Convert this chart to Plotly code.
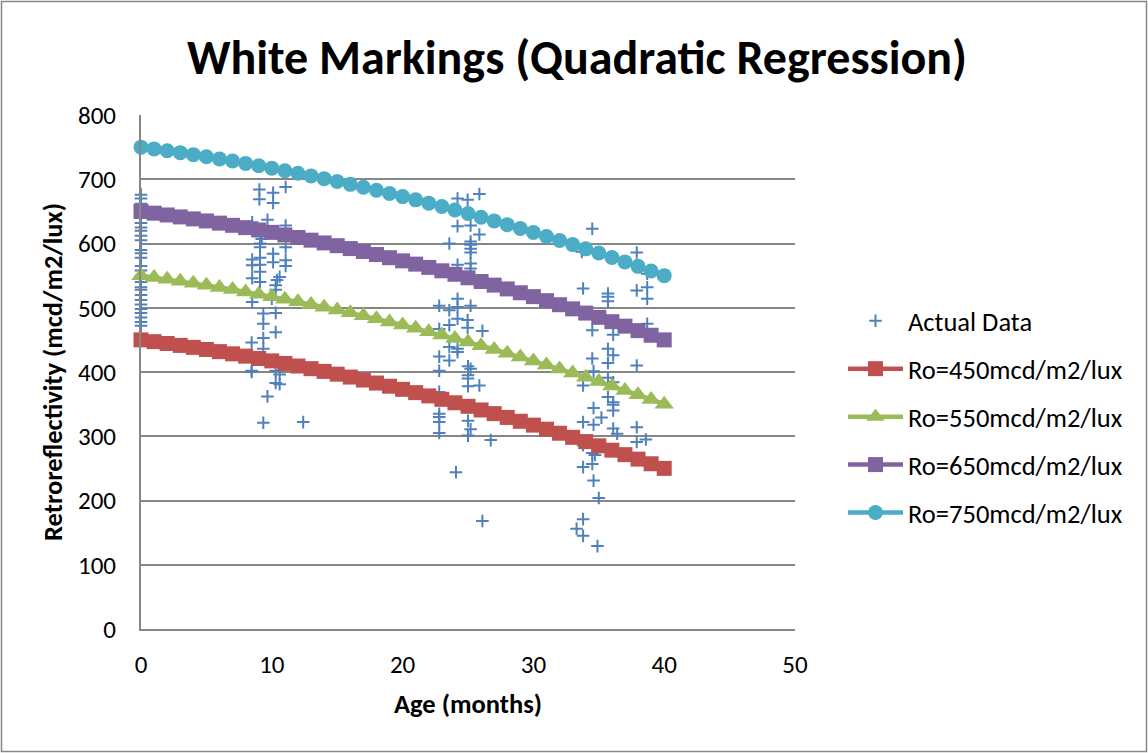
import plotly.graph_objects as go

# Measured retroreflectivity (age in months, mcd/m2/lux)
actual_age = [
    0, 0, 0, 0, 0, 0, 0, 0, 0, 0, 0, 0, 0, 0, 0, 0, 0, 0, 0, 0, 0, 0, 0, 0, 0, 0, 0, 0,
    9.05, 10.1, 11.06, 9.05, 10.1, 9.67, 8.5, 11.06, 9.23, 9.1, 9.1, 11.06, 10.1, 8.5, 9.1,
    8.5, 9.1, 10.1, 11.06, 11.06, 9.1, 8.5, 10.6, 10.4, 9.1, 10.3, 10.3, 8.5, 10.0, 9.35,
    10.3, 9.35, 10.3, 9.35, 8.46, 9.35, 8.46, 8.46, 10.3, 10.6, 10.3, 10.6, 9.67, 9.35, 12.4,
    25.87, 24.2, 24.97, 24.2, 25.2, 25.87, 23.57, 25.2, 25.2, 25.2, 25.2, 24.2, 25.2, 25.2,
    24.2, 22.8, 23.57, 24.2, 25.2, 24.2, 24.97, 23.57, 24.97, 22.8, 26.1, 23.57, 24.2, 24.2,
    22.8, 23.57, 22.8, 25.0, 25.2, 25.0, 25.0, 25.0, 25.87, 22.8, 22.8, 22.8, 22.8, 25.0,
    25.2, 25.0, 22.8, 26.74, 24.08, 26.1,
    34.5, 33.7, 37.9, 33.8, 35.7, 35.7, 35.7, 37.9, 38.7, 38.7, 38.7, 38.7, 34.5, 36.1, 35.7,
    36.1, 34.5, 35.7, 37.9, 34.6, 35.7, 33.8, 36.1, 35.7, 36.1, 36.1, 36.1, 34.6, 35.2, 33.8,
    34.6, 36.1, 36.4, 37.9, 33.8, 33.8, 37.9, 38.6, 34.5, 34.7, 34.5, 33.8, 34.6, 35.0, 33.8,
    33.3, 33.8, 34.9,
]
actual_retro = [
    676, 670, 662, 655, 640, 632, 625, 620, 612, 605, 590, 585, 578, 565, 558, 550, 545, 540,
    532, 528, 520, 512, 505, 498, 492, 485, 478, 472,
    684, 679, 688, 669, 663, 637, 633, 628, 607, 600, 594, 594, 584, 575, 578,
    566, 567, 571, 574, 565, 556, 546, 548, 543, 540, 535, 528, 509, 514, 491,
    492, 475, 462, 453, 446, 436, 402, 400, 402, 396, 383, 381, 362, 321, 322,
    677, 670, 668, 627, 628, 614, 600, 603, 598, 592, 586, 567, 569, 561,
    514, 503, 496, 501, 503, 483, 481, 473, 469, 467, 464, 439, 436, 431,
    424, 418, 402, 409, 405, 395, 390, 378, 379, 369, 335, 330, 322, 324,
    311, 301, 305, 294, 244, 168,
    623, 587, 586, 530, 522, 517, 510, 527, 532, 514, 553, 475, 465, 458, 436,
    426, 421, 414, 410, 401, 391, 379, 384, 361, 353, 349, 340, 344, 329, 322,
    318, 312, 304, 314, 291, 286, 291, 295, 274, 271, 257, 252, 231, 204, 171,
    156, 145, 129,
]

# Quadratic regression curves, one point per month
months = list(range(41))
ro_450 = [450.0, 447.2, 444.4, 441.4, 438.3, 435.1, 431.7, 428.3, 424.7, 421.0, 417.3,
          413.3, 409.3, 405.2, 400.9, 396.6, 392.1, 387.5, 382.8, 377.9, 373.0,
          367.9, 362.8, 357.5, 352.1, 346.6, 340.9, 335.2, 329.3, 323.3, 317.3,
          311.0, 304.7, 298.3, 291.7, 285.1, 278.3, 271.4, 264.4, 257.2, 250.0]
ro_550 = [550.0, 547.2, 544.4, 541.4, 538.3, 535.1, 531.7, 528.3, 524.7, 521.0, 517.3,
          513.3, 509.3, 505.2, 500.9, 496.6, 492.1, 487.5, 482.8, 477.9, 473.0,
          467.9, 462.8, 457.5, 452.1, 446.6, 440.9, 435.2, 429.3, 423.3, 417.3,
          411.0, 404.7, 398.3, 391.7, 385.1, 378.3, 371.4, 364.4, 357.2, 350.0]
ro_650 = [650.0, 647.2, 644.4, 641.4, 638.3, 635.1, 631.7, 628.3, 624.7, 621.0, 617.3,
          613.3, 609.3, 605.2, 600.9, 596.6, 592.1, 587.5, 582.8, 577.9, 573.0,
          567.9, 562.8, 557.5, 552.1, 546.6, 540.9, 535.2, 529.3, 523.3, 517.3,
          511.0, 504.7, 498.3, 491.7, 485.1, 478.3, 471.4, 464.4, 457.2, 450.0]
ro_750 = [750.0, 747.2, 744.4, 741.4, 738.3, 735.1, 731.7, 728.3, 724.7, 721.0, 717.3,
          713.3, 709.3, 705.2, 700.9, 696.6, 692.1, 687.5, 682.8, 677.9, 673.0,
          667.9, 662.8, 657.5, 652.1, 646.6, 640.9, 635.2, 629.3, 623.3, 617.3,
          611.0, 604.7, 598.3, 591.7, 585.1, 578.3, 571.4, 564.4, 557.2, 550.0]

series_names = ["Ro=450mcd/m2/lux", "Ro=550mcd/m2/lux", "Ro=650mcd/m2/lux", "Ro=750mcd/m2/lux"]
series_values = [ro_450, ro_550, ro_650, ro_750]
series_colors = ["#C0504D", "#9BBB59", "#8064A2", "#4BACC6"]
series_symbols = ["square", "triangle-up", "square", "circle"]
series_sizes = [15, 17, 15, 15]

FONT = "Carlito, Calibri, Lato, sans-serif"

fig = go.Figure()
fig.add_trace(go.Scatter(
    x=actual_age, y=actual_retro, mode="markers", name="Actual Data",
    legendgroup="a",
    marker=dict(symbol="cross-thin", size=9, color="#4F81BD",
                line=dict(color="#4F81BD", width=2)),
    cliponaxis=False,
))
for i, (nm, vals, col, sym, sz) in enumerate(zip(series_names, series_values,
                                                  series_colors, series_symbols, series_sizes)):
    fig.add_trace(go.Scatter(
        x=months, y=vals, mode="lines+markers", name=nm, legendgroup=f"s{i}",
        line=dict(color=col, width=4.5),
        marker=dict(symbol=sym, size=sz, color=col),
        cliponaxis=False,
    ))

L, R, T, B = 141, 353, 115, 124
W, H = 1148, 753
pw, ph = W - L - R, H - T - B

fig.update_layout(
    width=W, height=H,
    margin=dict(l=L, r=R, t=T, b=B),
    paper_bgcolor="white", plot_bgcolor="white",
    font=dict(family=FONT, size=25, color="black"),
    title=dict(text="<b>White Markings (Quadratic Regression)</b>",
               x=577 / W, xanchor="center", y=1 - 57 / H, yanchor="middle",
               font=dict(family=FONT, size=48, color="black")),
    xaxis=dict(range=[0, 50], dtick=10, showgrid=False, zeroline=False,
               showline=True, linecolor="#868686", linewidth=2,
               ticks="", ticklabelstandoff=12, tickfont=dict(size=25),
               title=dict(text="<b>Age (months)</b>", standoff=15,
                          font=dict(family=FONT, size=26.5))),
    yaxis=dict(range=[0, 800], dtick=100, showgrid=True, gridcolor="#868686",
               gridwidth=1.5, zeroline=False, showline=True, linecolor="#868686",
               linewidth=2, ticks="", ticklabelstandoff=18, tickfont=dict(size=25),
               title=dict(text="<b>Retroreflectivity (mcd/m2/lux)</b>", standoff=8,
                          font=dict(family=FONT, size=26.5))),
    legend=dict(x=(843 - L) / pw, xanchor="left", y=(T + ph - 297) / ph, yanchor="top",
                font=dict(family=FONT, size=26.5), tracegroupgap=10.5, itemwidth=55,
                bgcolor="rgba(0,0,0,0)"),
    showlegend=True,
)

# Chart area border
fig.add_shape(type="rect", xref="paper", yref="paper",
              x0=(1.5 - L) / pw, x1=(W - 1.5 - L) / pw,
              y0=(T + ph - (H - 1.5)) / ph, y1=(T + ph - 1.5) / ph,
              line=dict(color="#868686", width=1.5), fillcolor="rgba(0,0,0,0)",
              layer="below")

fig.write_html("out.html")
